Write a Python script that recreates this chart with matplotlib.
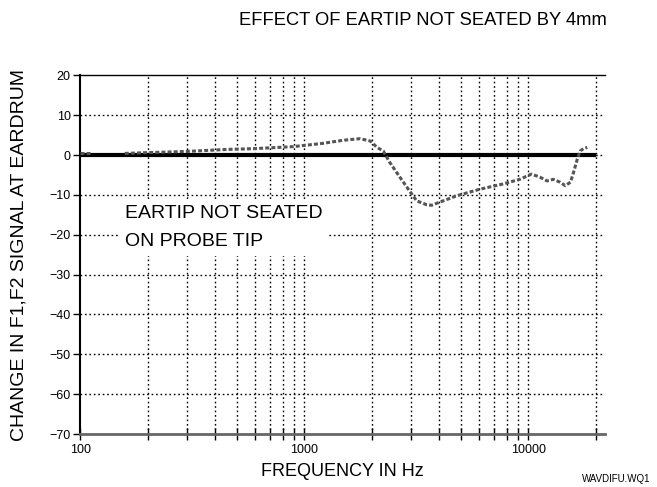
import matplotlib.pyplot as plt
from matplotlib.ticker import FixedLocator, NullFormatter

plt.rcParams['font.family'] = ['Liberation Sans', 'DejaVu Sans']

# measured curve: change in F1,F2 signal (dB) vs frequency (Hz)
freq_a = [100, 110]
change_a = [0.5, 0.5]
freq_b = [158, 200, 300, 450, 600, 890, 1200, 1490, 1770, 1970, 2110, 2250,
          2400, 2670, 2970, 3170, 3520, 3700, 3900, 4800, 6050, 7650, 9140,
          10300, 11200, 12100, 12900, 13800, 14600, 15400, 15900, 16500,
          17000, 17600, 18300]
change_b = [0.4, 0.6, 0.9, 1.4, 1.6, 2.1, 2.9, 3.7, 4.1, 3.5, 1.9, 1.0,
            -1.8, -5.6, -9.3, -11.5, -12.5, -12.6, -12.1, -10.2, -8.6, -7.3,
            -6.1, -4.8, -5.5, -6.5, -6.1, -6.8, -7.7, -6.8, -4.3, -1.1,
            1.0, 1.6, 1.9]
ref_freq = [100, 20000]
ref_level = [0, 0]

y_ticks = [20, 10, 0, -10, -20, -30, -40, -50, -60, -70]
x_major = [100, 1000, 10000]
x_minor = [200, 300, 400, 500, 600, 700, 800, 900,
           2000, 3000, 4000, 5000, 6000, 7000, 8000, 9000, 20000]

fig = plt.figure(figsize=(6.57, 4.87), dpi=100)
ax = fig.add_axes([0.1222, 0.1088, 0.7990, 0.7366])

ax.set_xscale('log')
ax.set_xlim(100, 22000)
ax.set_ylim(-70, 20)

grid = dict(color='black', linestyle=(0, (1.2, 2.0)), linewidth=1.0, zorder=1)
for y in y_ticks[1:-1]:
    ax.axhline(y, **grid)
for x in x_major[1:] + x_minor:
    ax.axvline(x, **grid)

ax.plot(ref_freq, ref_level, color='black', linewidth=3, solid_capstyle='butt', zorder=3)
ax.plot(freq_a, change_a, color='#555555', linewidth=2.2, linestyle=(0, (1.3, 0.7)), zorder=4)
ax.plot(freq_b, change_b, color='#555555', linewidth=2.2, linestyle=(0, (1.3, 0.7)), zorder=4)

ax.text(158, -18.3, 'EARTIP NOT SEATED\nON PROBE TIP', fontsize=14,
        linespacing=1.85, va='center', ha='left', zorder=5,
        bbox=dict(facecolor='white', edgecolor='none', pad=4))

ax.xaxis.set_major_locator(FixedLocator(x_major))
ax.xaxis.set_minor_locator(FixedLocator(x_minor))
ax.xaxis.set_minor_formatter(NullFormatter())
ax.set_xticklabels(['100', '1000', '10000'])
ax.set_yticks(y_ticks)
ax.tick_params(axis='both', which='both', labelsize=9, color='black')
ax.tick_params(axis='x', which='both', direction='inout', length=8, width=1, pad=3)
ax.tick_params(axis='y', direction='out', length=5, width=1, pad=2)

ax.spines['right'].set_visible(False)
ax.spines['top'].set_linewidth(1)
ax.spines['left'].set_linewidth(1.5)
ax.spines['bottom'].set_color('#666666')
ax.spines['bottom'].set_linewidth(2)

ax.set_xlabel('FREQUENCY IN Hz', fontsize=13, labelpad=5)
ax.set_ylabel('CHANGE IN F1,F2 SIGNAL AT EARDRUM', fontsize=14)
ax.yaxis.set_label_coords(-0.101, 0.50)
fig.text(0.643, 0.958, 'EFFECT OF EARTIP NOT SEATED BY 4mm', fontsize=13.2,
         ha='center', va='center')
fig.text(0.99, 0.006, 'WAVDIFU.WQ1', fontsize=7, ha='right', va='bottom')

fig.savefig('out.png', dpi=100)
